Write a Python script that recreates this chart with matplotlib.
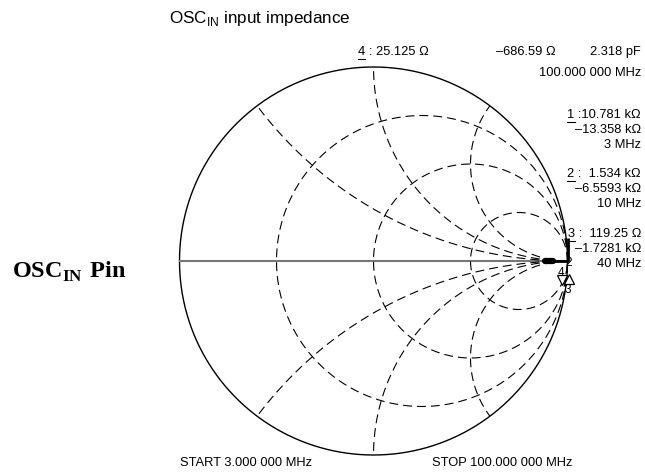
import numpy as np
import matplotlib
matplotlib.use('Agg')
import matplotlib.pyplot as plt

plt.rcParams['font.family'] = ['Liberation Sans', 'DejaVu Sans']
plt.rcParams['mathtext.fontset'] = 'custom'
plt.rcParams['mathtext.rm'] = 'Liberation Sans'
plt.rcParams['mathtext.bf'] = 'Liberation Serif:bold'

# smith chart grid (normalised)
r_grid = [1 / 3, 1, 3]
x_grid = [0.5, 1, 2]

trace_re = [0.884, 0.92, 0.96, 1.0, 1.0, 1.0]
trace_im = [0.0, 0.0, 0.0, 0.0, 0.06, 0.12]
blob_re = [0.884, 0.925]
blob_im = [0.0, 0.0]

# markers
mark_re = [0.972, 1.008]
mark_im = [-0.098, -0.093]
mark_sym = ['v', '^']
mark_lbl = ['2', '4', '3']
mark_lbl_re = [1.008, 0.968, 1.0]
mark_lbl_im = [-0.012, -0.062, -0.15]

# readouts
top_num = '4'
top_readout = ['4 : 25.125 \u03a9', '\u2013686.59 \u03a9', '2.318 pF', '100.000 000 MHz']
m_num = ['1', '2', '3']
m_res = ['1 :10.781 k\u03a9', '2 :  1.534 k\u03a9', '3 :  119.25 \u03a9']
m_react = ['\u201313.358 k\u03a9', '\u20136.5593 k\u03a9', '\u20131.7281 k\u03a9']
m_freq = ['3 MHz', '10 MHz', '40 MHz']

W, H = 645, 472
fig = plt.figure(figsize=(W / 100, H / 100), dpi=100)
rend = fig.canvas.get_renderer()

cx, cy, R = 373.5, 261, 194
ax = fig.add_axes([(cx - R) / W, (H - cy - R) / H, 2 * R / W, 2 * R / H])
ax.set_xlim(-1, 1)
ax.set_ylim(-1, 1)
ax.set_aspect('equal')
ax.axis('off')

dash = dict(color='black', lw=0.8, ls=(0, (8, 4.5)), clip_on=False)

t = np.linspace(0, 2 * np.pi, 721)
ax.plot(np.cos(t), np.sin(t), color='black', lw=1.0, clip_on=False)
ax.plot([-1, 1], [0, 0], color='#777777', lw=1.5, clip_on=False)

for r in r_grid:
    c = r / (1 + r)
    rad = 1 / (1 + r)
    ph = np.linspace(0, 2 * np.pi, 721)
    ax.plot(c + rad * np.cos(ph), rad * np.sin(ph), **dash)

for x in x_grid:
    for s in [1, -1]:
        rad = 1 / x
        ph = np.linspace(-np.pi / 2, -3 * np.pi / 2, 2000)
        px = 1 + rad * np.cos(ph)
        py = s * (rad + rad * np.sin(ph))
        keep = px ** 2 + py ** 2 <= 1.0
        ax.plot(px[keep], py[keep], **dash)

ax.plot(trace_re, trace_im, color='black', lw=2.0, clip_on=False, solid_capstyle='butt')
ax.plot(blob_re, blob_im, color='black', lw=4.5, clip_on=False, solid_capstyle='round')

for xr, yi, m in zip(mark_re, mark_im, mark_sym):
    ax.plot(xr, yi, marker=m, ms=6.5, mfc='white', mec='black', mew=0.9, clip_on=False)
for lb, xr, yi in zip(mark_lbl, mark_lbl_re, mark_lbl_im):
    ax.text(xr, yi, lb, fontsize=8.5, ha='center', va='center', clip_on=False)


def ftext(x, y, s, **kw):
    return fig.text(x / W, 1 - y / H, s, va='center', **kw)


def underline_first(txt, ch, fsize):
    # underline the first character of a text, measured after layout
    bb = txt.get_window_extent(rend)
    tmp = fig.text(0, 0, ch, fontsize=fsize)
    w = tmp.get_window_extent(rend).width
    tmp.remove()
    y = bb.y0 - 1
    fig.add_artist(plt.Line2D([bb.x0 / W, (bb.x0 + w) / W], [y / H, y / H],
                              color='black', lw=0.8, transform=fig.transFigure))


fs = 9.3
xr_edge = 641
ftext(169, 18, r'OSC$_{\rm IN}$ input impedance', fontsize=12.3)
ftext(12, 272, r'$\mathbf{OSC}_{\mathbf{IN}}$$\mathbf{\ Pin}$', fontsize=17.5)

t4 = ftext(358, 52, top_readout[0], fontsize=fs)
underline_first(t4, top_num, fs)
ftext(556, 52, top_readout[1], fontsize=fs, ha='right')
ftext(xr_edge, 52, top_readout[2], fontsize=fs, ha='right')
ftext(xr_edge, 73, top_readout[3], fontsize=fs, ha='right')

ys = [115, 174, 234]
for i in range(3):
    y0 = ys[i]
    tr = ftext(xr_edge, y0, m_res[i], fontsize=fs, ha='right')
    underline_first(tr, m_num[i], fs)
    ftext(xr_edge, y0 + 15, m_react[i], fontsize=fs, ha='right')
    ftext(xr_edge, y0 + 30, m_freq[i], fontsize=fs, ha='right')

ftext(180, 463, 'START 3.000 000 MHz', fontsize=fs)
ftext(432, 463, 'STOP 100.000 000 MHz', fontsize=fs)

fig.savefig('out.png', dpi=100)
